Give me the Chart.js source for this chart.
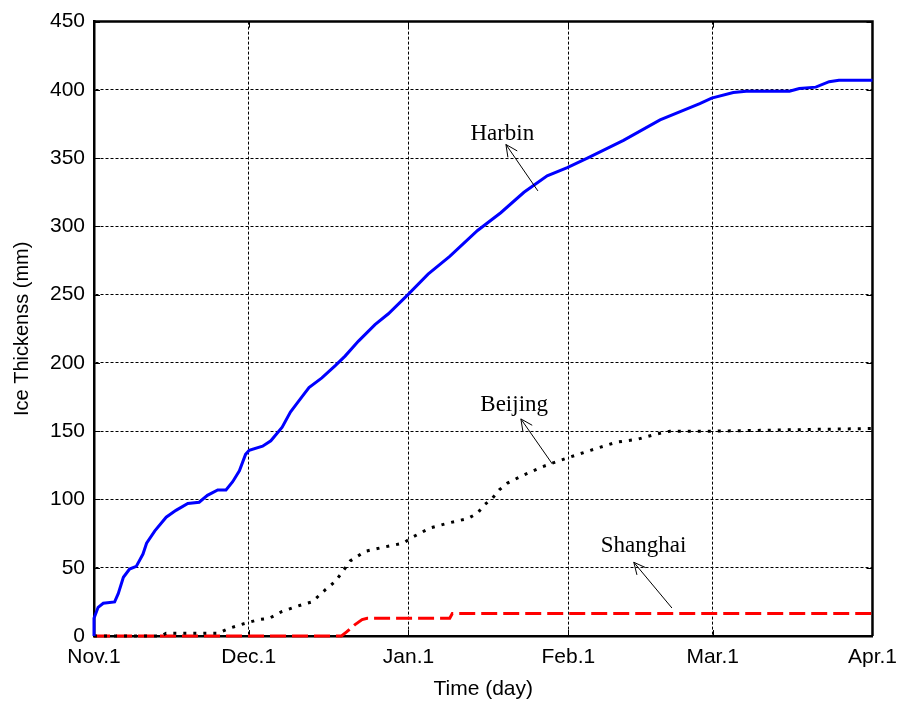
<!DOCTYPE html>
<html>
<head>
<meta charset="utf-8">
<script src="https://cdn.jsdelivr.net/npm/chart.js@4.4.1/dist/chart.umd.min.js"></script>
<style>
  html, body { margin: 0; padding: 0; background: #fff; }
</style>
</head>
<body>
<canvas id="chart" width="906" height="702"></canvas>
<script>
// days counted from Nov.1
const tickDays = [0, 30, 61, 92, 120, 151];
const tickLabels = ['Nov.1', 'Dec.1', 'Jan.1', 'Feb.1', 'Mar.1', 'Apr.1'];

const harbinDays = [0, 0, 0.8, 1.8, 4, 4.7, 5.7, 6.9, 8.2, 9.5, 10.2, 11.8, 14, 15.9, 18.2, 20.4, 22, 24, 25.6, 26.9,
  28.2, 29.4, 30.1, 32.7, 34.3, 36.5, 38.1, 39.7, 41.7, 44.2, 46.8, 48.7, 51.3, 54.5, 57.1, 60.9, 64.8, 69, 74.4,
  78.9, 83.4, 87.9, 91.8, 95.7, 102.7, 109.8, 114.3, 117.5, 119.8, 124, 126.5, 134.9, 136.8, 140, 142.6, 144.5, 151];
const harbinIce = [0, 13, 21, 24, 25, 31, 43, 49, 51, 60, 68, 77, 87, 92, 97, 98, 103, 107, 107, 113,
  121, 133, 136, 139, 143, 153, 164, 172, 182, 189, 198, 205, 216, 228, 236, 250, 265, 278, 297,
  310, 325, 337, 343, 350, 363, 378, 385, 390, 394, 398, 399, 399, 401, 402, 406, 407, 407];

const beijingDays = [0, 13, 14, 24, 26.2, 28.2, 30, 32, 34, 36.5, 40.4, 42.3, 44.9, 46.8, 48.4, 49.7, 52.6, 56.1,
  60, 61.6, 65.1, 69, 72.5, 74.4, 75.7, 77.3, 78.6, 80.2, 83.4, 87, 89.2, 92.3, 96.3, 101.4, 105.3, 109.2, 111.7,
  119.8, 135, 151];
const beijingIce = [0, 0, 2, 2, 5.6, 8, 10, 12, 13, 18, 23, 25, 34, 40, 48, 55, 62, 65,
  68, 72, 79, 83, 86, 90, 96, 101, 107, 112, 118, 124, 127, 131, 136, 142, 144, 148, 150,
  150, 151, 152];

const shanghaiDays = [0, 48, 49, 50.5, 52, 53, 69, 69.5, 151];
const shanghaiIce = [0, 0, 3, 8, 12, 13, 13, 16.5, 16.5];

// label text, text anchor, arrow tail, arrow head (day, mm)
const notes = [
  { text: 'Harbin', at: [79.2, 368], from: [86.1, 326], to: [79.9, 360] },
  { text: 'Beijing', at: [81.5, 169], from: [88.9, 126], to: [82.8, 159] },
  { text: 'Shanghai', at: [106.6, 66], from: [112.1, 20.5], to: [104.7, 54] },
];

function toPoints(xs, ys) {
  return xs.map((x, i) => ({ x: x, y: ys[i] }));
}

const framePlugin = {
  id: 'frame',
  beforeDatasetsDraw(chart) {
    const { ctx, chartArea: a, scales } = chart;
    ctx.save();
    ctx.strokeStyle = '#000';
    ctx.lineWidth = 1;
    ctx.beginPath();
    tickDays.forEach((d) => {
      const px = Math.round(scales.x.getPixelForValue(d)) + 0.5;
      ctx.moveTo(px, a.bottom); ctx.lineTo(px, a.bottom - 6);
      ctx.moveTo(px, a.top); ctx.lineTo(px, a.top + 6);
    });
    scales.y.ticks.forEach((t) => {
      const py = Math.round(scales.y.getPixelForValue(t.value)) + 0.5;
      ctx.moveTo(a.left, py); ctx.lineTo(a.left + 6, py);
      ctx.moveTo(a.right, py); ctx.lineTo(a.right - 6, py);
    });
    ctx.stroke();
    ctx.lineWidth = 2.5;
    ctx.beginPath();
    ctx.moveTo(a.left, a.top); ctx.lineTo(a.right, a.top); ctx.lineTo(a.right, a.bottom);
    ctx.stroke();
    ctx.restore();
  },
};

const notePlugin = {
  id: 'notes',
  afterDatasetsDraw(chart) {
    const { ctx, scales } = chart;
    const px = (p) => [scales.x.getPixelForValue(p[0]), scales.y.getPixelForValue(p[1])];
    ctx.save();
    ctx.fillStyle = '#000';
    ctx.strokeStyle = '#000';
    ctx.lineWidth = 1;
    ctx.font = '23px "Liberation Serif", "Times New Roman", serif';
    ctx.textAlign = 'center';
    ctx.textBaseline = 'middle';
    notes.forEach((n) => {
      const t = px(n.at);
      ctx.fillText(n.text, t[0], t[1]);
      const f = px(n.from);
      const h = px(n.to);
      const ang = Math.atan2(h[1] - f[1], h[0] - f[0]);
      ctx.beginPath();
      ctx.moveTo(f[0], f[1]);
      ctx.lineTo(h[0], h[1]);
      [0.45, -0.45].forEach((da) => {
        ctx.moveTo(h[0], h[1]);
        ctx.lineTo(h[0] - 13 * Math.cos(ang + da), h[1] - 13 * Math.sin(ang + da));
      });
      ctx.stroke();
    });
    ctx.restore();
  },
};

function main() {
  Chart.defaults.font.family = 'Arial, "Liberation Sans", sans-serif';
  Chart.defaults.color = '#000';

  const chart = new Chart(document.getElementById('chart'), {
    type: 'line',
    data: {
      datasets: [
        {
          label: 'Harbin',
          data: toPoints(harbinDays, harbinIce),
          borderColor: '#0000ff',
          borderWidth: 3,
          clip: false,
        },
        {
          label: 'Beijing',
          data: toPoints(beijingDays, beijingIce),
          borderColor: '#000',
          borderWidth: 3,
          borderDash: [3, 7],
          clip: false,
        },
        {
          label: 'Shanghai',
          data: toPoints(shanghaiDays, shanghaiIce),
          borderColor: '#ff0000',
          borderWidth: 3,
          borderDash: [16, 6],
          clip: false,
        },
      ],
    },
    options: {
      responsive: false,
      animation: false,
      devicePixelRatio: 1,
      layout: { padding: { top: 20, right: 29, left: 0, bottom: 0 } },
      elements: { point: { radius: 0 }, line: { tension: 0 } },
      plugins: { legend: { display: false }, tooltip: { enabled: false } },
      scales: {
        x: {
          type: 'linear',
          min: 0,
          max: 151,
          afterBuildTicks: (s) => { s.ticks = tickDays.map((v) => ({ value: v })); },
          afterFit: (s) => { s.height = 66; },
          ticks: {
            font: { size: 21 },
            padding: 9,
            autoSkip: false,
            maxRotation: 0,
            callback: (v) => tickLabels[tickDays.indexOf(v)],
          },
          grid: { color: '#000', lineWidth: 1, drawTicks: false },
          border: { color: '#000', width: 2.5, dash: [3, 2] },
          title: { display: true, text: 'Time (day)', font: { size: 21 }, padding: { top: 0, bottom: 0 } },
        },
        y: {
          min: 0,
          max: 450,
          afterFit: (s) => { s.width = 94; },
          ticks: { stepSize: 50, font: { size: 21 }, padding: 9 },
          grid: { color: '#000', lineWidth: 1, drawTicks: false },
          border: { color: '#000', width: 2.5, dash: [3, 2] },
          title: { display: true, text: 'Ice Thickenss (mm)', font: { size: 20 }, padding: { top: 10, bottom: 0 } },
        },
      },
    },
    plugins: [framePlugin, notePlugin],
  });
}

main();
</script>
</body>
</html>
